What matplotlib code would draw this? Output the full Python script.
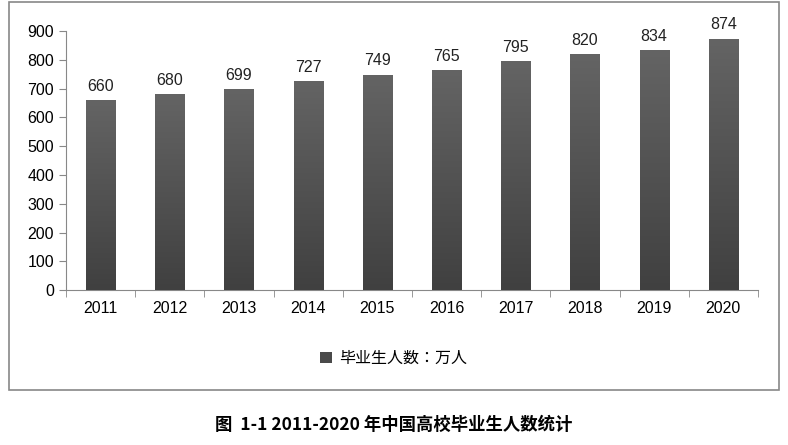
import numpy as np
import matplotlib.pyplot as plt
from matplotlib import font_manager
from matplotlib.patches import Rectangle, Patch
from matplotlib.colors import LinearSegmentedColormap

# make sure a CJK font is registered
cjk = 'DejaVu Sans'
for f in font_manager.findSystemFonts():
    if 'CJK' in f or 'cjk' in f.lower():
        try:
            font_manager.fontManager.addfont(f)
        except Exception:
            pass
names = {f.name for f in font_manager.fontManager.ttflist}
for n in ['Noto Sans CJK SC', 'Noto Sans CJK JP', 'Noto Sans CJK TC', 'Noto Sans CJK KR']:
    if n in names:
        cjk = n
        break
plt.rcParams['font.family'] = ['Liberation Sans', cjk]

years = ['2011', '2012', '2013', '2014', '2015', '2016', '2017', '2018', '2019', '2020']
graduates = [660, 680, 699, 727, 749, 765, 795, 820, 834, 874]
series_name = '毕业生人数：万人'
caption = '图  1-1 2011-2020 年中国高校毕业生人数统计'

fig = plt.figure(figsize=(7.88, 4.45), dpi=100)
ax = fig.add_axes([0.0838, 0.348, 0.878, 0.582])

x = np.arange(len(years))
width = 0.42
bars = ax.bar(x, graduates, width=width, color='#555555', zorder=2)

cmap = LinearSegmentedColormap.from_list('g', ['#404040', '#646464'])
grad = np.linspace(0, 1, 256).reshape(-1, 1)
for b, v in zip(bars, graduates):
    x0, w = b.get_x(), b.get_width()
    im = ax.imshow(grad, extent=[x0, x0 + w, 0, v], origin='lower',
                   cmap=cmap, aspect='auto', zorder=3)
    im.set_clip_path(b)
    ax.text(x0 + w / 2, v + 22, str(v), ha='center', va='bottom',
            fontsize=11.5, color='#222222')

ax.set_xlim(-0.5, len(years) - 0.5)
ax.set_ylim(0, 900)
ax.set_yticks(range(0, 901, 100))
ax.set_xticks(x)
ax.set_xticklabels(years)
ax.set_xticks(np.arange(-0.5, len(years), 1), minor=True)
ax.tick_params(axis='x', which='major', length=0, pad=8, labelsize=11.5)
ax.tick_params(axis='x', which='minor', length=5, color='#888888')
ax.tick_params(axis='y', length=5, color='#888888', labelsize=11.5)
for s in ['top', 'right']:
    ax.spines[s].set_visible(False)
for s in ['left', 'bottom']:
    ax.spines[s].set_color('#888888')

fig.legend(handles=[Patch(facecolor='#4a4a4a', label=series_name)],
           loc='center', bbox_to_anchor=(0.5, 0.195), frameon=False,
           prop={'family': cjk, 'size': 11.5},
           handlelength=0.7, handleheight=0.7, handletextpad=0.5)

fig.patches.append(Rectangle((0.011, 0.124), 0.978, 0.871, transform=fig.transFigure,
                             fill=False, edgecolor='#888888', linewidth=1.2))

fig.text(0.5, 0.045, caption, ha='center', va='center', fontsize=12.5,
         fontweight='bold', family=cjk)

fig.savefig('out.png', dpi=100)
